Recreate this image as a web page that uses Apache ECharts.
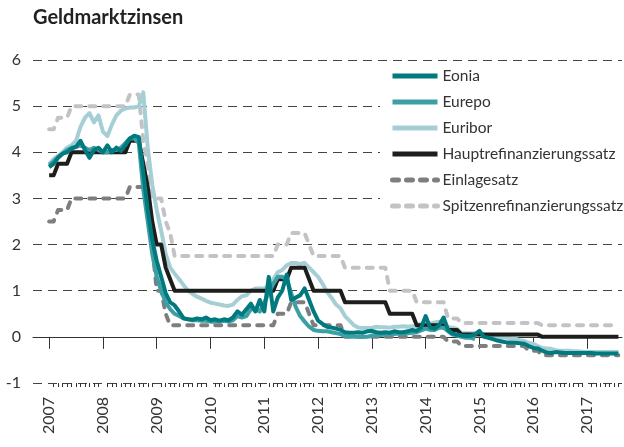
<!DOCTYPE html>
<html>
<head>
<meta charset="utf-8" />
<title>Geldmarktzinsen</title>
<script src="https://cdn.jsdelivr.net/npm/echarts@6/dist/echarts.min.js"></script>
</head>
<body style="margin:0;background:#fff">
<div id="chart" style="width:624px;height:447px;"></div>
<script type="text/javascript">
// monthly values, Jan 2007 .. Aug 2017 (index = months since Jan 2007)
var years = [2007, 2008, 2009, 2010, 2011, 2012, 2013, 2014, 2015, 2016, 2017];

var eonia = [
  3.68, 3.75, 3.88, 3.97, 4.00, 4.08, 4.12, 4.25, 4.05, 3.88, 4.05, 4.10,
  4.00, 4.15, 4.00, 4.10, 4.03, 4.15, 4.30, 4.36, 4.33, 3.55, 2.75, 2.10,
  1.65, 1.30, 0.95, 0.75, 0.68, 0.55, 0.40, 0.38, 0.37, 0.40, 0.38, 0.42,
  0.36, 0.38, 0.35, 0.38, 0.36, 0.42, 0.55, 0.48, 0.60, 0.72, 0.55, 0.80,
  0.55, 1.30, 0.55, 0.85, 1.00, 1.35, 0.80, 0.85, 0.90, 1.05, 0.80, 0.55,
  0.35, 0.28, 0.22, 0.20, 0.18, 0.15, 0.10, 0.09, 0.09, 0.10, 0.09, 0.12,
  0.13, 0.10, 0.09, 0.10, 0.09, 0.12, 0.10, 0.10, 0.12, 0.15, 0.13, 0.20,
  0.45, 0.20, 0.18, 0.25, 0.42, 0.15, 0.07, 0.05, 0.03, 0.02, 0.02, 0.05,
  0.13, 0.00, -0.02, -0.05, -0.08, -0.10, -0.12, -0.12, -0.13, -0.14, -0.15, -0.20,
  -0.24, -0.25, -0.30, -0.34, -0.35, -0.33, -0.34, -0.35, -0.35, -0.35, -0.35, -0.35,
  -0.35, -0.35, -0.36, -0.36, -0.36, -0.36, -0.36, -0.36
];

var eurepo = [
  3.72, 3.80, 3.90, 3.97, 4.05, 4.10, 4.12, 4.15, 4.10, 4.05, 4.10, 4.05,
  4.00, 4.00, 4.05, 4.05, 4.10, 4.20, 4.30, 4.30, 4.20, 3.20, 2.50, 1.80,
  1.30, 1.00, 0.75, 0.60, 0.50, 0.45, 0.40, 0.38, 0.36, 0.36, 0.35, 0.35,
  0.33, 0.33, 0.34, 0.35, 0.33, 0.36, 0.45, 0.42, 0.45, 0.60, 0.60, 0.55,
  0.75, 0.95, 1.15, 1.30, 1.30, 1.25, 0.95, 0.65, 0.45, 0.33, 0.22, 0.15,
  0.13, 0.12, 0.12, 0.10, 0.08, 0.06, 0.02, 0.01, 0.00, 0.00, 0.00, 0.00,
  0.03, 0.04, 0.04, 0.05, 0.05, 0.06, 0.07, 0.07, 0.08, 0.09, 0.10, 0.14,
  0.18, 0.15, 0.15, 0.20, 0.20, 0.12, 0.05, 0.03, 0.00, -0.02, -0.02, -0.05
];

var euribor = [
  3.75, 3.85, 3.92, 4.00, 4.10, 4.15, 4.25, 4.55, 4.75, 4.85, 4.65, 4.80,
  4.45, 4.35, 4.60, 4.80, 4.90, 4.95, 4.97, 4.97, 5.00, 5.30, 4.10, 3.30,
  2.75, 2.30, 1.80, 1.50, 1.37, 1.25, 1.12, 1.00, 0.93, 0.87, 0.83, 0.78,
  0.74, 0.72, 0.70, 0.68, 0.67, 0.70, 0.80, 0.88, 0.90, 1.00, 1.05, 1.05,
  1.05, 1.10, 1.25, 1.40, 1.45, 1.55, 1.60, 1.60, 1.58, 1.60, 1.50, 1.40,
  1.30, 1.15, 0.97, 0.85, 0.70, 0.62, 0.45, 0.35, 0.25, 0.20, 0.19, 0.19,
  0.20, 0.22, 0.21, 0.21, 0.20, 0.22, 0.22, 0.23, 0.22, 0.23, 0.23, 0.29,
  0.29, 0.29, 0.31, 0.33, 0.30, 0.21, 0.20, 0.17, 0.08, 0.08, 0.08, 0.08,
  0.06, 0.05, 0.02, 0.00, -0.01, -0.01, -0.02, -0.03, -0.04, -0.07, -0.09, -0.13,
  -0.15, -0.20, -0.24, -0.25, -0.26, -0.29, -0.30, -0.30, -0.30, -0.31, -0.31, -0.32,
  -0.33, -0.33, -0.33, -0.33, -0.33, -0.33, -0.33, -0.33
];

var hauptrefi = [
  3.5, 3.5, 3.75, 3.75, 3.75, 4, 4, 4, 4, 4, 4, 4,
  4, 4, 4, 4, 4, 4, 4.25, 4.25, 4.25, 3.75, 3.25, 2.5,
  2, 2, 1.5, 1.25, 1, 1, 1, 1, 1, 1, 1, 1,
  1, 1, 1, 1, 1, 1, 1, 1, 1, 1, 1, 1,
  1, 1, 1, 1.25, 1.25, 1.25, 1.5, 1.5, 1.5, 1.5, 1.25, 1,
  1, 1, 1, 1, 1, 1, 0.75, 0.75, 0.75, 0.75, 0.75, 0.75,
  0.75, 0.75, 0.75, 0.75, 0.5, 0.5, 0.5, 0.5, 0.5, 0.5, 0.25, 0.25,
  0.25, 0.25, 0.25, 0.25, 0.25, 0.15, 0.15, 0.15, 0.05, 0.05, 0.05, 0.05,
  0.05, 0.05, 0.05, 0.05, 0.05, 0.05, 0.05, 0.05, 0.05, 0.05, 0.05, 0.05,
  0.05, 0.05, 0, 0, 0, 0, 0, 0, 0, 0, 0, 0,
  0, 0, 0, 0, 0, 0, 0, 0
];

var einlage = [
  2.5, 2.5, 2.75, 2.75, 2.75, 3, 3, 3, 3, 3, 3, 3,
  3, 3, 3, 3, 3, 3, 3.25, 3.25, 3.25, 3.25, 2.75, 2,
  1, 1, 0.5, 0.25, 0.25, 0.25, 0.25, 0.25, 0.25, 0.25, 0.25, 0.25,
  0.25, 0.25, 0.25, 0.25, 0.25, 0.25, 0.25, 0.25, 0.25, 0.25, 0.25, 0.25,
  0.25, 0.25, 0.25, 0.5, 0.5, 0.5, 0.75, 0.75, 0.75, 0.75, 0.5, 0.25,
  0.25, 0.25, 0.25, 0.25, 0.25, 0.25, 0, 0, 0, 0, 0, 0,
  0, 0, 0, 0, 0, 0, 0, 0, 0, 0, 0, 0,
  0, 0, 0, 0, 0, -0.1, -0.1, -0.1, -0.2, -0.2, -0.2, -0.2,
  -0.2, -0.2, -0.2, -0.2, -0.2, -0.2, -0.2, -0.2, -0.2, -0.2, -0.2, -0.3,
  -0.3, -0.3, -0.4, -0.4, -0.4, -0.4, -0.4, -0.4, -0.4, -0.4, -0.4, -0.4,
  -0.4, -0.4, -0.4, -0.4, -0.4, -0.4, -0.4, -0.4
];

var spitzenrefi = [
  4.5, 4.5, 4.75, 4.75, 4.75, 5, 5, 5, 5, 5, 5, 5,
  5, 5, 5, 5, 5, 5, 5.25, 5.25, 5.25, 4.25, 3.75, 3,
  3, 3, 2.5, 2.25, 1.75, 1.75, 1.75, 1.75, 1.75, 1.75, 1.75, 1.75,
  1.75, 1.75, 1.75, 1.75, 1.75, 1.75, 1.75, 1.75, 1.75, 1.75, 1.75, 1.75,
  1.75, 1.75, 1.75, 2, 2, 2, 2.25, 2.25, 2.25, 2.25, 2, 1.75,
  1.75, 1.75, 1.75, 1.75, 1.75, 1.75, 1.5, 1.5, 1.5, 1.5, 1.5, 1.5,
  1.5, 1.5, 1.5, 1.5, 1, 1, 1, 1, 1, 1, 0.75, 0.75,
  0.75, 0.75, 0.75, 0.75, 0.75, 0.4, 0.4, 0.4, 0.3, 0.3, 0.3, 0.3,
  0.3, 0.3, 0.3, 0.3, 0.3, 0.3, 0.3, 0.3, 0.3, 0.3, 0.3, 0.3,
  0.3, 0.3, 0.25, 0.25, 0.25, 0.25, 0.25, 0.25, 0.25, 0.25, 0.25, 0.25,
  0.25, 0.25, 0.25, 0.25, 0.25, 0.25, 0.25, 0.25
];

function pairs(arr) {
  return arr.map(function (v, i) { return [i, v]; });
}

var yearTicks = years.map(function (y) { return (y - 2007) * 12; });
var monthTicks = [];
for (var m = 0; m <= 127; m++) {
  if (m % 12 !== 0) monthTicks.push(m);
}

var font = 'Lato, "Noto Sans", sans-serif';
var chart = echarts.init(document.getElementById('chart'));

function lineSeries(name, data, color, z, dashed) {
  return {
    name: name,
    type: 'line',
    data: pairs(data),
    showSymbol: false,
    symbol: 'none',
    z: z,
    lineStyle: {
      color: color,
      width: 4,
      type: dashed ? [6, 8] : 'solid',
      cap: dashed ? 'round' : 'butt',
      join: 'round'
    },
    itemStyle: { color: color }
  };
}

var option = {
  animation: false,
  backgroundColor: '#fff',
  title: {
    text: 'Geldmarktzinsen',
    left: 28,
    top: 3,
    textStyle: { fontSize: 20, fontWeight: 'bold', color: '#222', fontFamily: font }
  },
  legend: {
    orient: 'vertical',
    left: 380,
    top: 62,
    padding: [6, 2, 6, 10],
    backgroundColor: '#fff',
    itemWidth: 45,
    itemHeight: 14,
    itemGap: 10,
    itemStyle: { opacity: 0 },
    lineStyle: { width: 5 },
    data: ['Eonia', 'Eurepo', 'Euribor', 'Hauptrefinanzierungssatz', 'Einlagesatz', 'Spitzenrefinanzierungssatz'],
    textStyle: { fontSize: 15.5, color: '#333', fontFamily: font }
  },
  grid: { left: 33, right: 2, top: 60, bottom: 64, containLabel: false },
  xAxis: [{
    type: 'value',
    min: -3.6,
    max: 127.8,
    position: 'bottom',
    axisLine: { show: true, lineStyle: { color: '#333', width: 1 } },
    axisTick: { show: true, customValues: yearTicks, length: 12, lineStyle: { color: '#333' } },
    axisLabel: {
      customValues: yearTicks,
      rotate: 90,
      margin: 14,
      fontSize: 16,
      color: '#333',
      fontFamily: font,
      formatter: function (v) { return String(2007 + Math.round(v / 12)); }
    },
    splitLine: { show: false }
  }, {
    type: 'value',
    min: -3.6,
    max: 127.8,
    position: 'bottom',
    axisLine: { show: false },
    axisTick: { show: true, customValues: monthTicks, length: 4, lineStyle: { color: '#333' } },
    axisLabel: { show: false },
    splitLine: { show: false }
  }],
  yAxis: {
    type: 'value',
    min: -1,
    max: 6,
    interval: 1,
    axisLine: { show: false },
    axisTick: { show: false },
    axisLabel: { fontSize: 16, color: '#333', margin: 12, fontFamily: font },
    splitLine: { show: true, lineStyle: { color: '#444', width: 1, type: [9, 6] } }
  },
  series: [
    lineSeries('Eonia', eonia, '#007a7e', 8, false),
    lineSeries('Eurepo', eurepo, '#3c9fa4', 7, false),
    lineSeries('Euribor', euribor, '#a5cfd5', 5, false),
    lineSeries('Hauptrefinanzierungssatz', hauptrefi, '#1d1d1b', 6, false),
    lineSeries('Einlagesatz', einlage, '#7e7e81', 4, true),
    lineSeries('Spitzenrefinanzierungssatz', spitzenrefi, '#c3c3c7', 3, true)
  ]
};
chart.setOption(option);
</script>
</body>
</html>
